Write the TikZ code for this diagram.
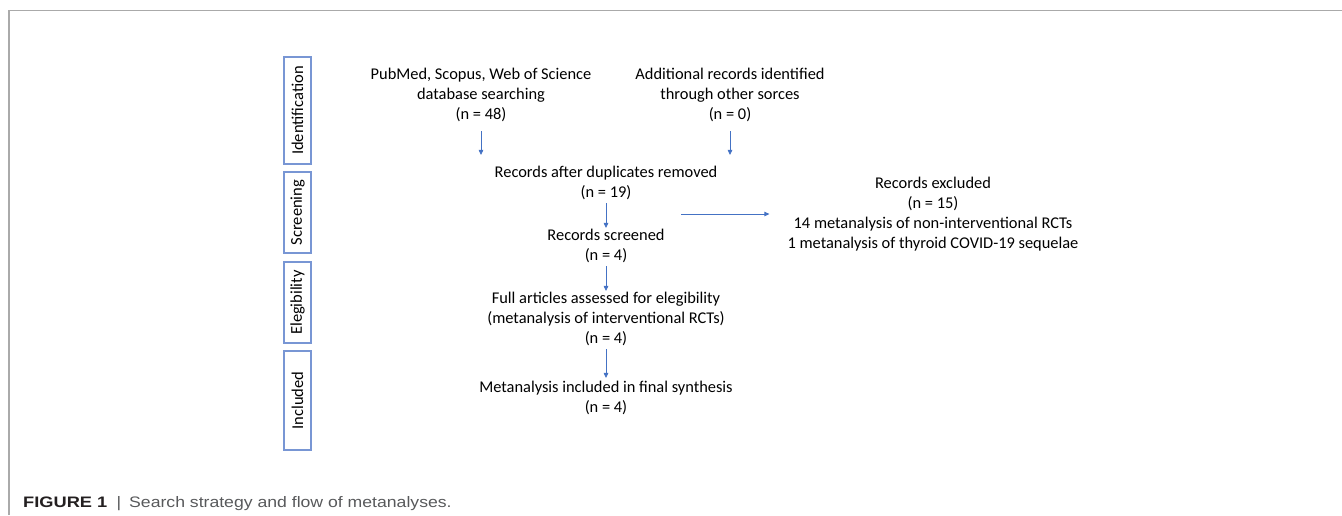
\documentclass[tikz,border=0pt]{standalone}
\usepackage{fontspec}
\setmainfont{Carlito}
\newfontfamily\capfontb[FakeStretch=1.2]{Liberation Sans}
\newfontfamily\capfontn[FakeStretch=1.16]{Liberation Sans}
\usetikzlibrary{arrows.meta}
\definecolor{arr}{RGB}{68,114,196}
\definecolor{lanec}{RGB}{120,150,212}
\definecolor{framec}{RGB}{170,170,170}
\definecolor{capgray}{RGB}{88,89,91}
\definecolor{capdark}{RGB}{35,31,32}
\begin{document}
\begin{tikzpicture}[x=1pt,y=-1pt,
  txt/.style={align=center, inner sep=0pt, font=\fontsize{16.4}{20}\selectfont},
  lane/.style={draw=lanec, line width=1.1pt, rotate=90, inner sep=0pt,
    minimum height=27pt, font=\fontsize{16.5}{19}\selectfont},
  flow/.style={draw=arr, line width=0.8pt, -{Triangle[length=5pt,width=4.5pt]}},
]
\useasboundingbox (0,0) rectangle (1342,515);
% frame
\coordinate (fa) at (9,515);
\coordinate (fb) at (9,10.5);
\coordinate (fc) at (1342,10.5);
\draw[framec, line width=1.4pt] (fa) -- (fb) -- (fc);

% lanes
\node[lane, minimum width=107pt] (l1) at (297.5,110.5) {Identification};
\node[lane, minimum width=81pt] (l2) at (297.5,212.5) {Screening};
\node[lane, minimum width=81pt] (l3) at (297.5,302.5) {Elegibility};
\node[lane, minimum width=99pt] (l4) at (297.5,400.5) {Included};

% flow nodes
\node[txt] (src1) at (481,95) {PubMed, Scopus, Web of Science\\database searching\\(n = 48)};
\node[txt] (src2) at (730,95) {Additional records identified\\through other sorces\\(n = 0)};
\node[txt] (dup) at (606,183) {Records after duplicates removed\\(n = 19)};
\node[txt] (scr) at (606,246) {Records screened\\(n = 4)};
\node[txt] (full) at (606,319) {Full articles assessed for elegibility\\(metanalysis of interventional RCTs)\\(n = 4)};
\node[txt] (incl) at (606,398) {Metanalysis included in final synthesis\\(n = 4)};
\node[txt] (excl) at (933,214.5) {Records excluded\\(n = 15)\\14 metanalysis of non-interventional RCTs\hspace*{28pt}\\1 metanalysis of thyroid COVID-19 sequelae};

% connectors
\draw[flow, shorten <=9pt, shorten >=11pt] (src1.south) -- (src1.south |- dup.north);
\draw[flow, shorten <=9pt, shorten >=11pt] (src2.south) -- (src2.south |- dup.north);
\draw[flow, shorten <=3pt, shorten >=1pt] (dup.south) -- (scr.north);
\draw[flow, shorten <=3pt, shorten >=1pt] (scr.south) -- (full.north);
\draw[flow, shorten <=3pt, shorten >=3pt] (full.south) -- (incl.north);
\coordinate (hs) at (681,214);
\draw[flow, shorten >=18pt] (hs) -- (hs -| excl.west);

% caption
\node[anchor=base west, inner sep=0pt, text=capdark, font=\capfontb\bfseries\fontsize{15.2}{18}\selectfont] (capa) at (23,507) {FIGURE 1};
\node[anchor=base, inner sep=0pt, text=capgray, font=\capfontn\fontsize{15.2}{18}\selectfont] (capb) at (119,507) {|};
\node[anchor=base west, inner sep=0pt, text=capgray, font=\capfontn\fontsize{15.2}{18}\selectfont] (capc) at (129,507) {Search strategy and flow of metanalyses.};
\end{tikzpicture}
\end{document}
